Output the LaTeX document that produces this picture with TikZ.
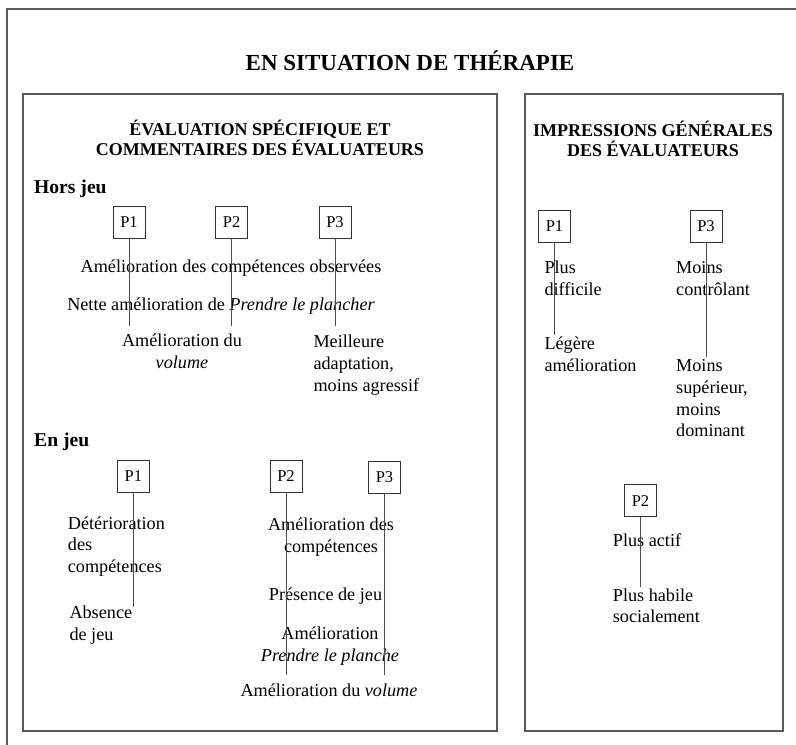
\documentclass[tikz,border=0pt]{standalone}
\usepackage{fontspec}
\setmainfont{Liberation Serif}
\begin{document}
\begin{tikzpicture}[x=1pt,y=-1pt,
  frame/.style={draw=black!65, line width=1.2pt},
  pbox/.style={draw=black!80, line width=0.8pt, minimum width=32pt, minimum height=32pt, inner sep=0pt, font=\fontsize{16.5}{18}\selectfont},
  link/.style={draw=black!70, line width=0.9pt},
  txt/.style={inner sep=0pt, font=\fontsize{18.2}{21.7}\selectfont, align=left, anchor=base west},
  ctxt/.style={inner sep=0pt, font=\fontsize{18.2}{21.7}\selectfont, align=center, anchor=base},
  head/.style={inner sep=0pt, font=\bfseries\fontsize{18}{20}\selectfont, align=center, anchor=base},
  sect/.style={inner sep=0pt, font=\bfseries\fontsize{19.6}{22}\selectfont, anchor=base west},
]
\useasboundingbox (0,0) rectangle (796,745);
\fill[white] (0,0) rectangle (796,745);
\draw[frame] (796,9) -- (7,9) -- (7,745);
\draw[frame] (23,94) rectangle (497,731);
\draw[frame] (525,94) rectangle (783,731);

% multi-line nodes are placed by the baseline of their last line
\node[font=\bfseries\fontsize{23}{26}\selectfont, anchor=base, inner sep=0pt] (title) at (410,70) {EN SITUATION DE THÉRAPIE};
\node[head] (hl) at (260,155.5) {ÉVALUATION SPÉCIFIQUE ET\\COMMENTAIRES DES ÉVALUATEURS};
\node[head] (hr) at (653,156.5) {IMPRESSIONS GÉNÉRALES\\DES ÉVALUATEURS};

% Hors jeu
\node[sect] (hj) at (34,193) {Hors jeu};
\node[pbox] (h1) at (129,222) {P1};
\node[pbox] (h2) at (231.7,222) {P2};
\node[pbox] (h3) at (335,222) {P3};
\coordinate (h1e) at (129,326);
\coordinate (h2e) at (231.7,326);
\coordinate (h3e) at (335,326);
\node[ctxt] (ht1) at (231,272.7) {Amélioration des compétences observées};
\node[ctxt] (ht2) at (221,310) {Nette amélioration de \textit{Prendre le plancher}};
\node[ctxt] (ht3) at (182,368) {Amélioration du\\\textit{volume}};
\node[txt] (ht4) at (313.3,391) {Meilleure\\adaptation,\\moins agressif};
\draw[link] (h1) -- (h1e);
\draw[link] (h2) -- (h2e);
\draw[link] (h3) -- (h3e);

% En jeu
\node[sect] (ej) at (34,446.7) {En jeu};
\node[pbox] (e1) at (133.3,476) {P1};
\node[pbox] (e2) at (286,476) {P2};
\node[pbox] (e3) at (384.5,477) {P3};
\coordinate (e1e) at (133.3,606.7);
\coordinate (e2e) at (286,675);
\coordinate (e3e) at (384.5,675);
\node[txt] (et1) at (67.7,572.5) {Détérioration\\des\\compétences};
\node[txt] (et2) at (69.3,640) {Absence\\de jeu};
\node[ctxt] (et3) at (331,552.3) {Amélioration des\\compétences};
\node[ctxt] (et4) at (325.5,600) {Présence de jeu};
\node[ctxt] (et5) at (330,661) {Amélioration\\\textit{Prendre le planche}};
\node[ctxt] (et6) at (329,696) {Amélioration du \textit{volume}};
\draw[link] (e1) -- (e1e);
\draw[link] (e2) -- (e2e);
\draw[link] (e3) -- (e3e);

% Impressions generales
\node[pbox] (r1) at (554.5,226.2) {P1};
\node[pbox] (r3) at (706,226.2) {P3};
\node[pbox] (r2) at (640.5,500.8) {P2};
\coordinate (r1e) at (554.5,335);
\coordinate (r3e) at (706,356.7);
\coordinate (r2e) at (640.5,586.7);
\node[txt] (rt1) at (544.3,295) {Plus\\difficile};
\node[txt] (rt2) at (544.3,371) {Légère\\amélioration};
\node[txt] (rt3) at (676,295) {Moins\\contrôlant};
\node[txt] (rt4) at (676,436.7) {Moins\\supérieur,\\moins\\dominant};
\node[txt] (rt5) at (612.7,546.7) {Plus actif};
\node[txt] (rt6) at (612.7,622.7) {Plus habile\\socialement};
\draw[link] (r1) -- (r1e);
\draw[link] (r3) -- (r3e);
\draw[link] (r2) -- (r2e);
\end{tikzpicture}
\end{document}
